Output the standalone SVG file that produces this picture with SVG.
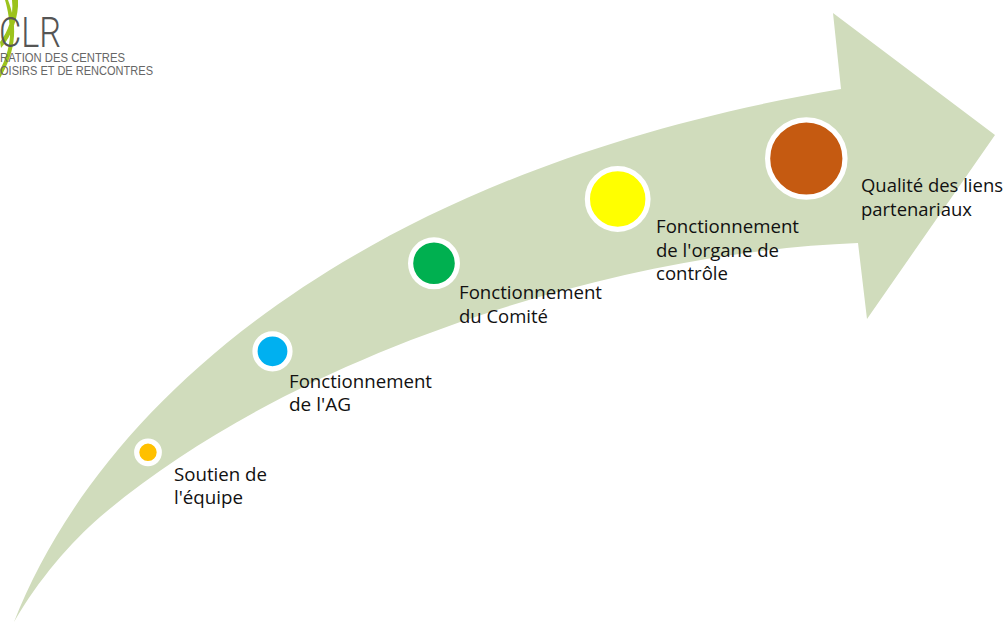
<svg xmlns="http://www.w3.org/2000/svg" width="1007" height="622" viewBox="0 0 1007 622">
<style>
text{font-family:"Open Sans","Noto Sans",sans-serif;font-size:18px;fill:#111}
.logo{font-family:"Liberation Sans",sans-serif;font-size:12.4px;fill:#666}
.d{stroke:#fff;stroke-width:5.2}
</style>
<rect width="1007" height="622" fill="#fff"/>
<path id="arrow" fill="#d0dcbc" d="M14 622C100 402 360 170 841 89L833 13L995 135L867 319L858 243C620 252 295 351 100 517C72 541 38 580 14 622Z"/>
<g id="logo"><path d="M12 0L18 0C19 16 12 36 1 48L0 42C8 32 14 16 12 0ZM5 0L8 0C12 10 15 24 14 36C13 52 7 66 0 78L0 70C5 60 9 50 10 36C10 22 8 10 5 0Z" fill="#9cc31c"/>
<text x="-1" y="47" textLength="62" lengthAdjust="spacingAndGlyphs" style="font-family:Roboto,sans-serif;font-size:42px;fill:#555;font-weight:300">CLR</text>
<text class="logo" x="0" y="62" textLength="125" lengthAdjust="spacingAndGlyphs">RATION DES CENTRES</text><text class="logo" x="0" y="75" textLength="153" lengthAdjust="spacingAndGlyphs">OISIRS ET DE RENCONTRES</text></g>
<g id="n1"><circle class="d" cx="148" cy="452.3" r="11.3" fill="#ffc000"/><text x="174" y="480.5" textLength="93" lengthAdjust="spacingAndGlyphs">Soutien de</text><text x="174" y="504" textLength="69" lengthAdjust="spacingAndGlyphs">l'équipe</text></g>
<g id="n2"><circle class="d" cx="272.5" cy="351.3" r="17.5" fill="#00b0f0"/><text x="289" y="388" textLength="143" lengthAdjust="spacingAndGlyphs">Fonctionnement</text><text x="289" y="411" textLength="62" lengthAdjust="spacingAndGlyphs">de l'AG</text></g>
<g id="n3"><circle class="d" cx="434" cy="263.3" r="23.4" fill="#00b050"/><text x="459" y="299" textLength="143" lengthAdjust="spacingAndGlyphs">Fonctionnement</text><text x="459" y="322.5" textLength="89" lengthAdjust="spacingAndGlyphs">du Comité</text></g>
<g id="n4"><circle class="d" cx="617.7" cy="199" r="30.3" fill="#ffff00"/><text x="656" y="233" textLength="143" lengthAdjust="spacingAndGlyphs">Fonctionnement</text><text x="656" y="257" textLength="123" lengthAdjust="spacingAndGlyphs">de l'organe de</text><text x="656" y="280" textLength="72" lengthAdjust="spacingAndGlyphs">contrôle</text></g>
<g id="n5"><circle class="d" cx="806.3" cy="158.5" r="38.7" fill="#c55a11"/><text x="861" y="192" textLength="142" lengthAdjust="spacingAndGlyphs">Qualité des liens</text><text x="861" y="215.5" textLength="111" lengthAdjust="spacingAndGlyphs">partenariaux</text></g>
<g id="connectors"></g>
</svg>
